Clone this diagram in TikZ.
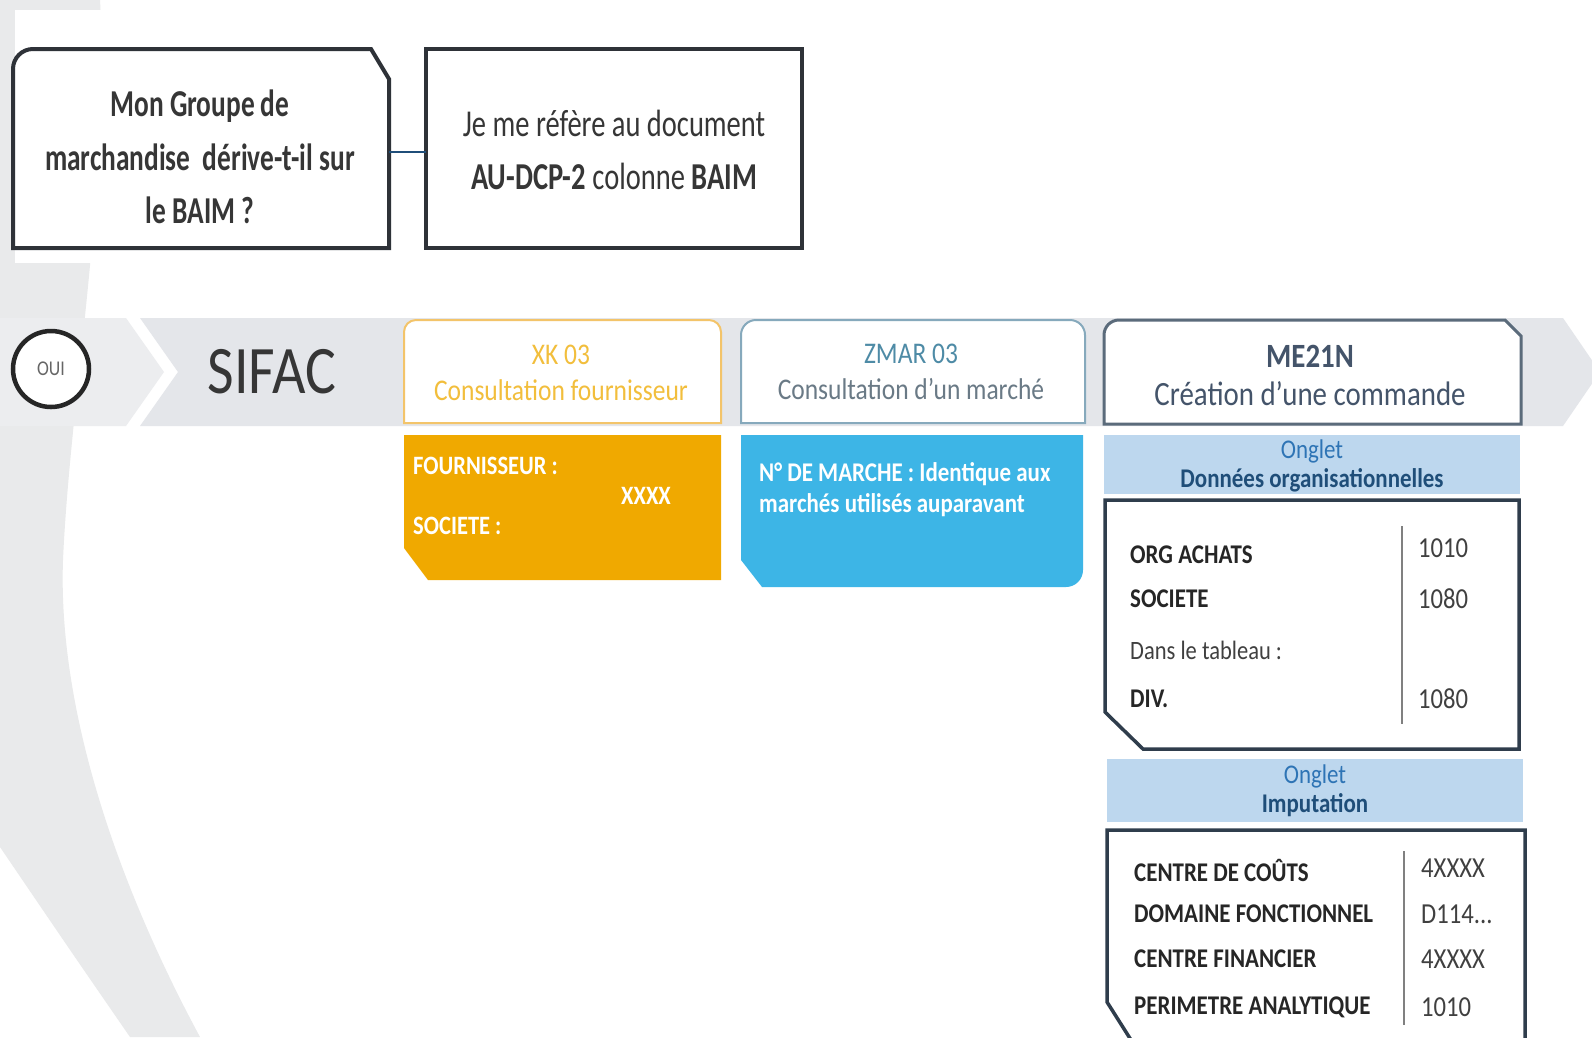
\documentclass[tikz,border=0pt]{standalone}
\usepackage{fontspec}
\setmainfont{Carlito}[FakeStretch=0.85]
\newfontfamily\condf{Carlito}[FakeStretch=0.75]
\newfontfamily\condb{Carlito}[FakeStretch=0.72]
\definecolor{bggray}{HTML}{E9EAEB}
\definecolor{bandA}{HTML}{ECEDEF}
\definecolor{bandB}{HTML}{E4E6EA}
\definecolor{boxdark}{HTML}{2E3238}
\definecolor{txtdark}{HTML}{363636}
\definecolor{orangefill}{HTML}{F0A900}
\definecolor{orangeline}{HTML}{F3C46A}
\definecolor{orangetxt}{HTML}{F2BE3C}
\definecolor{bluefill}{HTML}{3DB5E6}
\definecolor{blueline}{HTML}{86A9BC}
\definecolor{zmartxt}{HTML}{4E8BA6}
\definecolor{zmarsub}{HTML}{6A7A86}
\definecolor{slate}{HTML}{44546A}
\definecolor{slateline}{HTML}{5B6B7B}
\definecolor{ongletfill}{HTML}{BDD7EE}
\definecolor{onglettxt}{HTML}{2E74B5}
\definecolor{ongletbold}{HTML}{1F4E79}
\definecolor{tableline}{HTML}{2F3D4C}
\definecolor{divgray}{HTML}{808080}
\definecolor{labtxt}{HTML}{262626}
\definecolor{valtxt}{HTML}{404040}
\definecolor{conn}{HTML}{1F4E79}
\tikzset{
  topbox/.style={draw=boxdark, line width=4pt, fill=white},
  toptext/.style={align=center, text=txtdark, inner sep=0pt, font=\condf\fontsize{38}{53.5}\selectfont},
  toptextb/.style={align=center, text=txtdark, inner sep=0pt, font=\condb\bfseries\fontsize{38}{53.5}\selectfont},
  lab/.style={anchor=west, inner sep=0pt, text=labtxt, font=\bfseries\fontsize{27}{30}\selectfont},
  labn/.style={anchor=west, inner sep=0pt, text=valtxt, font=\fontsize{26.5}{30}\selectfont},
  val/.style={anchor=west, inner sep=0pt, text=valtxt, font=\fontsize{29}{30}\selectfont},
  wlab/.style={anchor=west, inner sep=0pt, text=white, font=\bfseries\fontsize{26.5}{30}\selectfont},
  ongletbar/.style={fill=ongletfill, draw=none},
  tablebox/.style={draw=tableline, line width=3.5pt, fill=white, line join=miter},
  divider/.style={draw=divgray, line width=2.5pt},
}
\begin{document}
\begin{tikzpicture}[x=1pt,y=-1pt]
\useasboundingbox (0,0) rectangle (1592,1037);
\clip (0,0) rectangle (1592,1037);
\fill[white] (0,0) rectangle (1592,1037);
% background ring arc
\fill[bggray] (0,0) -- (100,0) .. controls (110,180) and (70,400) .. (63,560) .. controls (58,700) and (110,870) .. (200,1037) -- (130,1037) .. controls (70,950) .. (0,847) -- cycle;
\fill[white] (15,10) rectangle (830,263);
% band
\fill[bandB] (140,318) -- (1563,318) -- (1600,372) -- (1563,426) -- (140,426) -- (178,372) -- cycle;
\fill[bandA] (0,318) -- (126,318) -- (164,372) -- (126,426) -- (0,426) -- cycle;

% top boxes
\draw[topbox] (13,248) -- (13,69) arc (180:270:20) -- (371,49) -- (389,79) -- (389,248) -- cycle;
\draw[topbox] (426,49) rectangle (802,248);
\node[toptextb] (q) at (200,157) {Mon Groupe de\\marchandise\ \ dérive-t-il sur\\le BAIM ?};
\node[toptext] (ref) at (614,150) {Je me réfère au document\\\textbf{AU-DCP-2} colonne \textbf{BAIM}};
\coordinate (qe) at (389,152);
\coordinate (refw) at (426,152);
\draw[conn, line width=2pt] (qe) -- (refw);

% OUI and SIFAC
\node[circle, draw=black!85, line width=4.5pt, fill=white, minimum size=76pt, inner sep=0pt,
      text=black!60, font=\fontsize{21}{22}\selectfont] (oui) at (51,369) {OUI};
\node[text=txtdark, inner sep=0pt, font=\fontsize{68}{70}\selectfont] (sifac) at (272,372) {SIFAC};

% XK 03
\draw[draw=orangeline, line width=2pt, fill=white] (404,423) -- (404,332) arc (180:270:12) -- (709,320) arc (270:360:12) -- (721,423) -- cycle;
\node[align=center, inner sep=0pt, text=orangetxt, font=\fontsize{30}{36}\selectfont] (xk) at (561,373) {XK 03\\Consultation fournisseur};
\fill[orangefill] (404,435) -- (721,435) -- (721,580) -- (428,580) -- (404,548) -- cycle;
\node[wlab] (four) at (413,466) {FOURNISSEUR :};
\node[anchor=center, inner sep=0pt, text=white, font=\bfseries\fontsize{26.5}{30}\selectfont] (xxxx) at (646,496) {XXXX};
\node[wlab] (soc) at (413,526) {SOCIETE :};

% ZMAR 03
\draw[draw=blueline, line width=2pt, fill=white] (741,423) -- (741,335) arc (180:270:15) -- (1070,320) arc (270:360:15) -- (1085,423) -- cycle;
\node[align=center, inner sep=0pt, font=\fontsize{30}{36}\selectfont] (zmar) at (911,372) {\textcolor{zmartxt}{ZMAR 03}\\\textcolor{zmarsub}{Consultation d'un marché}};
\fill[bluefill] (741,435) -- (1083,435) -- (1083,570) arc (0:90:17) -- (762,587) -- (741,560) -- cycle;
\node[anchor=west, align=left, inner sep=0pt, text=white, font=\bfseries\fontsize{27}{31}\selectfont] (marche) at (759,490) {N° DE MARCHE : Identique aux\\marchés utilisés auparavant};

% ME21N
\draw[draw=slateline, line width=3pt, fill=white] (1104,424) -- (1104,335) arc (180:270:15) -- (1505,320) -- (1521,336) -- (1521,424) -- cycle;
\node[align=center, inner sep=0pt, text=slate, font=\fontsize{34}{38}\selectfont] (me21n) at (1310,375) {\textbf{ME21N}\\Création d'une commande};

% Onglet 1
\fill[ongletbar] (1104,435) rectangle (1520,494);
\node[align=center, inner sep=0pt, font=\fontsize{27}{29}\selectfont] (ong1) at (1312,466) {\textcolor{onglettxt}{Onglet}\\\textcolor{ongletbold}{\bfseries Données organisationnelles}};
\draw[tablebox] (1105,500) -- (1519,500) -- (1519,749) -- (1143,749) -- (1105,712) -- cycle;
\coordinate (d1t) at (1402,526);
\coordinate (d1b) at (1402,724);
\draw[divider] (d1t) -- (d1b);
\node[lab] (orga) at (1130,555) {ORG ACHATS};
\node[val] (orgv) at (1418,548) {1010};
\node[lab] (soci) at (1130,599) {SOCIETE};
\node[val] (sociv) at (1418,599) {1080};
\node[labn] (dans) at (1130,650) {Dans le tableau :};
\node[lab] (div) at (1130,699) {DIV.};
\node[val] (divv) at (1418,699) {1080};

% Onglet 2
\fill[ongletbar] (1107,759) rectangle (1523,822);
\node[align=center, inner sep=0pt, font=\fontsize{27}{29}\selectfont] (ong2) at (1315,791) {\textcolor{onglettxt}{Onglet}\\\textcolor{ongletbold}{\bfseries Imputation}};
\draw[tablebox] (1107,830) -- (1525,830) -- (1525,1070) -- (1150,1070) -- (1107,1002) -- cycle;
\coordinate (d2t) at (1404,851);
\coordinate (d2b) at (1404,1025);
\draw[divider] (d2t) -- (d2b);
\node[lab] (cc) at (1134,870) {CENTRE DE COÛTS};
\node[val] (ccv) at (1421,868) {4XXXX};
\node[lab] (dom) at (1134,914) {DOMAINE FONCTIONNEL};
\node[val] (domv) at (1421,914) {D114...};
\node[lab] (cf) at (1134,959) {CENTRE FINANCIER};
\node[val] (cfv) at (1421,959) {4XXXX};
\node[lab] (per) at (1134,1007) {PERIMETRE ANALYTIQUE};
\node[val] (perv) at (1421,1007) {1010};
\end{tikzpicture}
\end{document}
